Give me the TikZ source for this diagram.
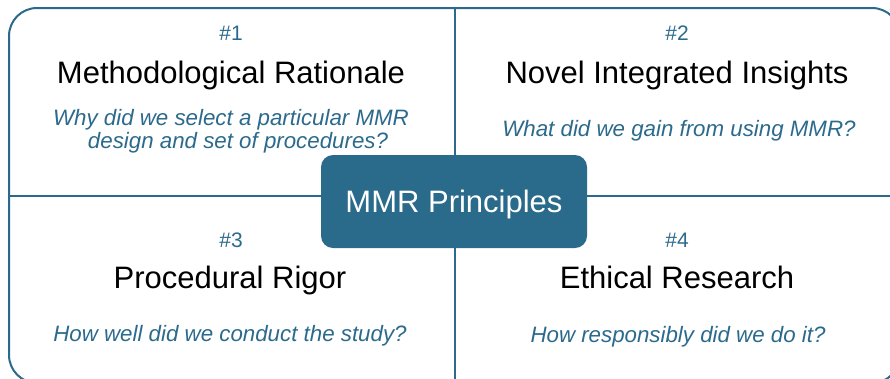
\documentclass[tikz,border=0pt]{standalone}
\usepackage{fontspec}
\setmainfont{Liberation Sans}
\definecolor{mmrblue}{HTML}{2B6A8C}
\definecolor{hubblue}{HTML}{2A6A8A}
\begin{document}
\begin{tikzpicture}[x=1pt,y=1pt,
  frame/.style={draw=mmrblue, line width=2pt, rounded corners=28pt, minimum width=891pt, minimum height=375pt, inner sep=0pt},
  divider/.style={draw=mmrblue, line width=2pt},
  hub/.style={fill=hubblue, rounded corners=12pt, minimum width=266pt, minimum height=93pt, text height=26pt, text depth=5pt, text=white, font=\fontsize{31}{36}\selectfont},
  num/.style={anchor=base, text=mmrblue, font=\fontsize{21}{25}\selectfont},
  title/.style={anchor=base, text=black, font=\fontsize{31}{36}\selectfont},
  ques/.style={anchor=base, text=mmrblue, align=center, font=\fontsize{22.3}{23}\selectfont\itshape}]
\useasboundingbox (0,0) rectangle (890,-378);
\clip (0,0) rectangle (890,-378);
\node[frame] (frame) at (454.5,-195.5){};
\draw[divider](frame.north) -- (frame.south);
\draw[divider](frame.west) -- (frame.east);
% top left
\node[num] (num1) at (231,-40){\#1};
\node[title] (title1) at (231,-83){Methodological Rationale};
\node[ques, anchor=center] (ques1) at (231,-131){Why did we select a particular MMR\\ \hspace*{14pt}design and set of procedures?};
% top right
\node[num] (num2) at (677,-40){\#2};
\node[title] (title2) at (677,-83){Novel Integrated Insights};
\node[ques] (ques2) at (679,-136){What did we gain from using MMR?};
% bottom left
\node[num] (num3) at (231,-247){\#3};
\node[title] (title3) at (230,-288){Procedural Rigor};
\node[ques] (ques3) at (230,-341){How well did we conduct the study?};
% bottom right
\node[num] (num4) at (677,-247){\#4};
\node[title] (title4) at (677,-288){Ethical Research};
\node[ques] (ques4) at (678,-342){How responsibly did we do it?};
% centre
\node[hub] (hub) at (454,-201.5){MMR Principles};
\end{tikzpicture}
\end{document}
